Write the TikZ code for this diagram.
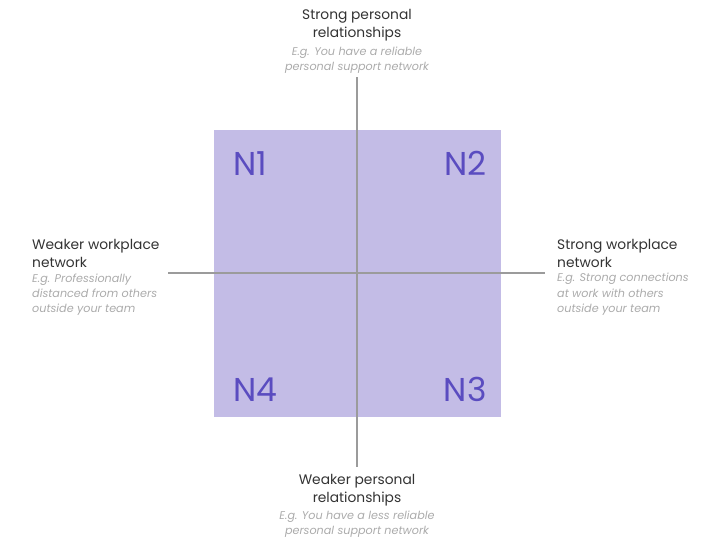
\documentclass[tikz,border=0pt]{standalone}
\usepackage{fontspec}
\setmainfont{Poppins}
\usepackage{xcolor}
\usetikzlibrary{positioning}

\definecolor{quadfill}{HTML}{C3BCE6}
\definecolor{quadtext}{HTML}{5A4CC0}
\definecolor{axisgray}{HTML}{9B9B9B}
\definecolor{titlegray}{HTML}{333333}
\definecolor{notegray}{HTML}{ABABAB}

\tikzset{
    title/.style={font=\fontsize{13.8}{18.5}\selectfont, text=titlegray, inner sep=0pt},
    note/.style={font=\fontsize{11.2}{15.5}\selectfont\itshape, text=notegray, inner sep=0pt},
    quadlabel/.style={font=\fontsize{33}{33}\selectfont, text=quadtext, inner sep=0pt},
    axis/.style={axisgray, line width=1.4pt}
}

\begin{document}
\begin{tikzpicture}[x=1pt, y=-1pt]
    \useasboundingbox (0,0) rectangle (711,541);

    % Quadrant square
    \node[fill=quadfill, minimum size=287pt, inner sep=0pt] (quad) at (357,273) {};

    % Axes
    \coordinate (axtop) at (357,77);
    \coordinate (axbot) at (357,467);
    \coordinate (axleft) at (168,273);
    \coordinate (axright) at (545,273);
    \draw[axis] (axtop) -- (axbot);
    \draw[axis] (axleft) -- (axright);

    % Quadrant labels
    \node[quadlabel, anchor=north west] (n1) at ([xshift=20pt, yshift=-22pt]quad.north west) {N1};
    \node[quadlabel, anchor=north east] (n2) at ([xshift=-14pt, yshift=-22pt]quad.north east) {N2};
    \node[quadlabel, anchor=south east] (n3) at ([xshift=-14pt, yshift=15pt]quad.south east) {N3};
    \node[quadlabel, anchor=south west] (n4) at ([xshift=20pt, yshift=15pt]quad.south west) {N4};

    % Axis labels
    \node[title, align=center, anchor=north] (toptitle) at (357,9) {Strong personal\\relationships};
    \node[note, align=center, below=5pt of toptitle] (topnote) {E.g. You have a reliable\\personal support network};

    \node[title, align=left, anchor=north west] (lefttitle) at (32,239) {Weaker workplace\\network};
    \node[note, align=left, below right=5pt and 0pt of lefttitle.south west] (leftnote) {E.g. Professionally\\distanced from others\\outside your team};

    \node[title, align=left, anchor=north west] (righttitle) at (557,239) {Strong workplace\\network};
    \node[note, align=left, below right=5pt and 0pt of righttitle.south west] (rightnote) {E.g. Strong connections\\at work with others\\outside your team};

    \node[title, align=center, anchor=north] (bottitle) at (357,474) {Weaker personal\\relationships};
    \node[note, align=center, below=4pt of bottitle] (botnote) {E.g. You have a less reliable\\personal support network};

\end{tikzpicture}
\end{document}
